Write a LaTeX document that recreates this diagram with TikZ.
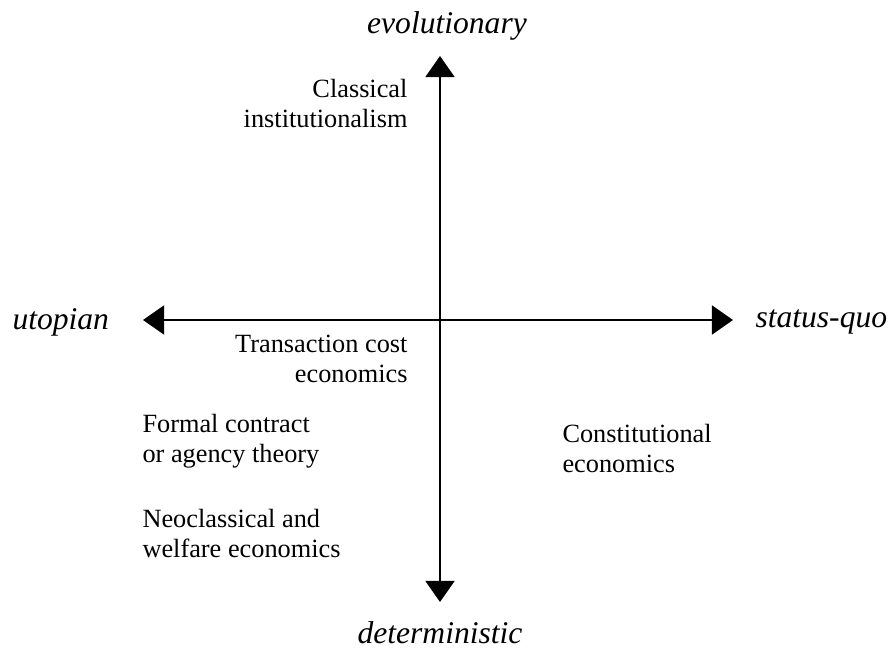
\documentclass[tikz,border=0pt]{standalone}
\usepackage{fontspec}
\setmainfont{Liberation Serif}
\usetikzlibrary{arrows.meta}
\begin{document}
\begin{tikzpicture}[x=0.38pt,y=-0.38pt,
  axis/.style={line width=0.75pt,{Triangle[length=8pt,width=11pt]}-{Triangle[length=8pt,width=11pt]}},
  pole/.style={inner sep=0pt,font={\fontsize{12}{14}\selectfont\itshape}},
  school/.style={inner sep=0pt,font={\fontsize{10}{11.4}\selectfont}}]
\useasboundingbox (0,0) rectangle (890,655);
\coordinate (top) at (440,56);
\coordinate (bot) at (440,602);
\coordinate (left) at (143,320);
\coordinate (right) at (733,320);
\draw[axis] (bot) -- (top);
\draw[axis] (left) -- (right);
\node[pole,anchor=base] (evo) at (447,34) {evolutionary};
\node[pole,anchor=base] (det) at (440,643) {deterministic};
\node[pole,anchor=base west] (uto) at (12,330) {utopian};
\node[pole,anchor=base west] (sq) at (755,328) {status-quo};
\node[school,anchor=base east,align=right] (ci) at (408,128) {Classical\\institutionalism};
\node[school,anchor=base east,align=right] (tc) at (408,383) {Transaction cost\\economics};
\node[school,anchor=base west,align=left] (fc) at (142,462) {Formal contract\\or agency theory};
\node[school,anchor=base west,align=left] (nc) at (142,557) {Neoclassical and\\welfare economics};
\node[school,anchor=base west,align=left] (ce) at (562,472) {Constitutional\\economics};
\end{tikzpicture}
\end{document}
